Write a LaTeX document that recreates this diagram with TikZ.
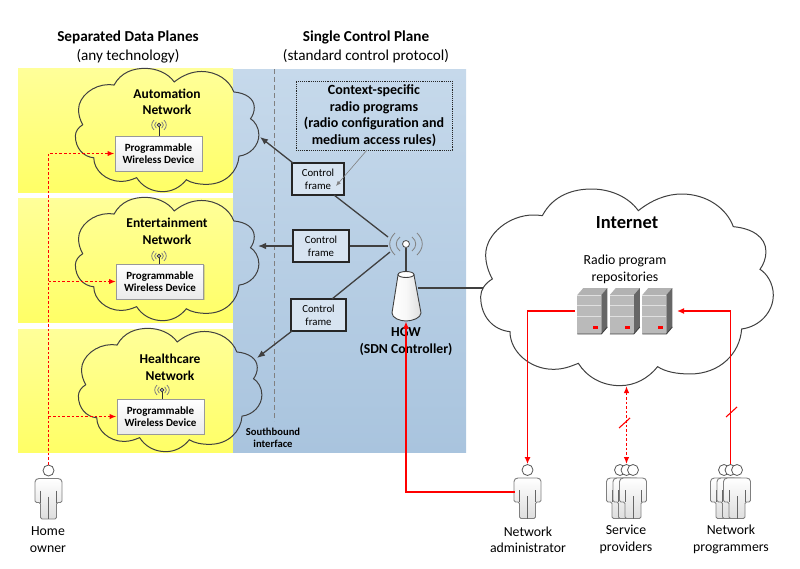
\documentclass[tikz,border=0pt]{standalone}
\usepackage{fontspec}
\setmainfont{Carlito}
\usetikzlibrary{arrows.meta,shadows,calc}
\definecolor{linegray}{HTML}{404040}
\definecolor{bodygray}{HTML}{7F7F7F}
\definecolor{yellowtop}{HTML}{FFFF99}
\definecolor{yellowbot}{HTML}{FFFF66}
\definecolor{bluetop}{HTML}{C6D9EB}
\definecolor{bluebot}{HTML}{A9C4DE}
\newcommand{\cloudpath}{(217,107) .. controls (250,45) and (310,27) .. (365,27) .. controls (420,27) and (475,50) .. (505,92)
 .. controls (545,60) and (590,42) .. (635,42) .. controls (710,42) and (770,85) .. (790,140)
 .. controls (845,145) and (888,170) .. (888,215) .. controls (888,235) and (880,255) .. (870,268)
 .. controls (890,280) and (910,310) .. (910,345) .. controls (910,395) and (870,440) .. (815,447)
 .. controls (810,520) and (750,582) .. (660,582) .. controls (620,582) and (585,575) .. (563,560)
 .. controls (535,595) and (495,617) .. (450,617) .. controls (395,617) and (350,590) .. (325,550)
 .. controls (300,560) and (280,568) .. (250,568) .. controls (180,568) and (120,515) .. (120,455)
 .. controls (70,450) and (32,410) .. (32,350) .. controls (32,330) and (45,310) .. (67,297)
 .. controls (55,275) and (47,250) .. (47,225) .. controls (47,160) and (120,105) .. (190,105)
 .. controls (200,105) and (210,106) .. (217,107) -- cycle}
\tikzset{
 panel/.style={top color=yellowtop, bottom color=yellowbot, draw=none},
 cloudline/.style={draw=linegray, line width=1pt},
 ctrlline/.style={draw=linegray, line width=1.3pt},
 ctrlarrow/.style={ctrlline, -{Latex[length=8pt,width=6.5pt]}},
 redline/.style={draw=red, line width=1.9pt, -{Latex[length=7pt,width=6pt]}},
 reddash/.style={draw=red, line width=1.9pt, dash pattern=on 2.6pt off 2pt, -{Latex[length=7pt,width=5.5pt]}},
 redtick/.style={draw=red, line width=1.1pt},
 title/.style={font=\fontsize{15.2}{19}\selectfont, align=center, inner sep=0pt},
 netlabel/.style={font=\fontsize{13.5}{16.5}\selectfont\bfseries, align=center, inner sep=0pt},
 caption/.style={font=\fontsize{13.8}{16.5}\selectfont, align=center, inner sep=0pt},
 devbox/.style={draw=gray!80, line width=1pt, top color=white, bottom color=black!8, minimum width=87pt, minimum height=35pt, inner sep=0pt, align=center, font=\fontsize{11}{12.5}\selectfont\bfseries, drop shadow={shadow xshift=1pt,shadow yshift=-1pt,opacity=.3}},
 framebox/.style={draw=black!85, line width=1.1pt, fill=bluetop!70, minimum height=32pt, inner sep=0pt, align=center, font=\fontsize{10.8}{12.7}\selectfont},
 radio/.pic={
  \draw[gray, line width=0.8pt] (-6,-7) .. controls (-11,-3) and (-11,3) .. (-6,7);
  \draw[gray, line width=0.8pt] (-11,-11) .. controls (-18,-4) and (-18,4) .. (-11,11);
  \draw[gray, line width=0.8pt] (6,-7) .. controls (11,-3) and (11,3) .. (6,7);
  \draw[gray, line width=0.8pt] (11,-11) .. controls (18,-4) and (18,4) .. (11,11);
 },
 person/.pic={
  \node[circle, draw=black!65, fill=white, line width=0.8pt, minimum size=11pt, inner sep=0pt] (-head) at (0,0) {};
  \draw[draw=bodygray, line width=0.9pt, top color=white, bottom color=black!13, rounded corners=1.5pt]
   (-13.5,10) -- (-11,8) -- (11,8) -- (13.5,10) -- (13.5,32) -- (8,32) -- (8,48.5) -- (-8,48.5) -- (-8,32) -- (-13.5,32) -- cycle;
  \draw[black!60, line width=0.9pt] (0,26) -- (0,48.5) (-8,20) -- (-8,32) (8,20) -- (8,32);
 },
 server/.pic={
  \fill[black!30] (0,7) -- (6,0) -- (30,0) -- (24,7) -- cycle;
  \fill[black!60] (24,7) -- (30,0) -- (30,39) -- (24,46) -- cycle;
  \fill[black!27] (0,7) rectangle (24,46);
  \draw[black!12, line width=1pt] (0,7.5) -- (24,7.5) (0,17) -- (24,17) (0,28) -- (24,28);
  \draw[black!75, line width=0.9pt] (0,46) -- (24,46) -- (30,39);
  \fill[red] (15.5,37.5) rectangle (20.5,40.5);
 },
}
\begin{document}
\begin{tikzpicture}[x=1pt,y=-1pt]
\useasboundingbox (0,0) rectangle (800,568);
% panels
\path[panel] (18,68) rectangle (233,192);
\path[panel] (18,198) rectangle (233,322);
\path[panel] (18,329) rectangle (233,452);
\path[top color=bluetop, bottom color=bluebot] (233,69) rectangle (466,452);
\draw[gray, line width=1pt, dash pattern=on 5pt off 3pt] (274,69) -- (274,421);
% titles
\node[title] (dataTitle) at (128,46.5) {\textbf{Separated Data Planes}\\(any technology)};
\node[title] (ctrlTitle) at (366,46.5) {\textbf{Single Control Plane}\\(standard control protocol)};
% clouds
\draw[cloudline, shift={(68.7,62.7)}, scale=0.209] \cloudpath;
\draw[cloudline, shift={(68.7,191.7)}, scale=0.209] \cloudpath;
\draw[cloudline, shift={(71.7,322.7)}, scale=0.209] \cloudpath;
\draw[cloudline, fill=white, shift={(470,180)}, scale=0.3333] \cloudpath;
\node[netlabel] (autoLabel) at (167,102) {Automation\\Network};
\node[netlabel] (entLabel) at (167,231.5) {Entertainment\\Network};
\node[netlabel] (healthLabel) at (170,367.5) {Healthcare\\Network};
% devices
\node[devbox] (devA) at (158.5,153.5) {Programmable\\Wireless Device};
\node[devbox] (devB) at (160,281.5) {Programmable\\Wireless Device};
\node[devbox] (devC) at (160.5,416.5) {Programmable\\Wireless Device};
\pic[scale=0.45] at (159,125) {radio};
\pic[scale=0.45] at (159,256) {radio};
\pic[scale=0.45] at (162,390) {radio};
\node[circle, draw=black!80, fill=white, line width=0.8pt, minimum size=3.5pt, inner sep=0pt] (radA) at (159,125) {};
\node[circle, draw=black!80, fill=white, line width=0.8pt, minimum size=3.5pt, inner sep=0pt] (radB) at (159,256) {};
\node[circle, draw=black!80, fill=white, line width=0.8pt, minimum size=3.5pt, inner sep=0pt] (radC) at (162,390) {};
\draw[black!80, line width=0.9pt] (radA) -- (radA |- devA.north);
\draw[black!80, line width=0.9pt] (radB) -- (radB |- devB.north);
\draw[black!80, line width=0.9pt] (radC) -- (radC |- devC.north);
% control plane
\node[draw=black!85, densely dotted, line width=0.9pt, minimum width=156pt, minimum height=69pt, inner sep=0pt, align=center, font=\fontsize{14}{16.5}\selectfont\bfseries] (ctxBox) at (374,115.5) {Context-specific\\radio programs\\(radio configuration and\\medium access rules)};
\node[framebox, minimum width=52pt] (frameA) at (318,179) {Control\\frame};
\node[framebox, minimum width=56pt] (frameB) at (321,246) {Control\\frame};
\node[framebox, minimum width=55pt] (frameC) at (318.5,315) {Control\\frame};
\pic at (406,244) {radio};
\node[circle, draw=black!70, fill=white, line width=0.8pt, minimum width=7pt, minimum height=6pt, inner sep=0pt] (hgwRad) at (406,244) {};
\coordinate (radW) at (388,246);
\coordinate (radNW) at (388,237);
\coordinate (radSW) at (390,252);
\coordinate (cloudA) at (260,137);
\coordinate (cloudB) at (258,246);
\coordinate (cloudC) at (257,358);
\coordinate (frameAtail) at (334,195);
\coordinate (frameAhead) at (293,163);
\coordinate (frameCtail) at (332,299);
\coordinate (frameChead) at (292,331);
\coordinate (ctxTail) at (367,150);
\coordinate (ctxHead) at (336,186);
\path [ctrlline] (frameAtail) edge (radNW);
\draw [ctrlarrow] (frameAhead) -- (cloudA);
\path [ctrlline] (frameB.east) edge (radW);
\draw [ctrlarrow] (frameB.west) -- (cloudB);
\path [ctrlline] (frameCtail) edge (radSW);
\draw [ctrlarrow] (frameChead) -- (cloudC);
\draw [gray, line width=0.6pt, -{Latex[length=5pt,width=4pt]}] (ctxTail) -- (ctxHead);
% HGW
\coordinate (hgwTop) at (406,272);
\coordinate (hgwBase) at (406,321.5);
\coordinate (hgwEast) at (418,288);
\coordinate (inetWest) at (483,288);
\path [ctrlline] (hgwRad) edge (hgwTop);
\path [ctrlline] (hgwEast) edge (inetWest);
\draw[draw=linegray, line width=0.9pt, left color=white, right color=black!13, middle color=black!3]
 (398,275) -- (392,313) .. controls (392,318) and (400,321) .. (406,321) .. controls (412,321) and (421,318) .. (421,313) -- (414,275) -- cycle;
\draw[draw=linegray, line width=0.9pt, fill=white] (406,274.5) ellipse [x radius=8, y radius=3];
\node[netlabel, font=\fontsize{13.7}{17}\selectfont\bfseries] (hgwLabel) at (406,341.5) {HGW\\(SDN Controller)};
\node[font=\fontsize{10.6}{12}\selectfont\bfseries, align=center, inner sep=0pt] (sbLabel) at (273,438) {Southbound\\interface};
% internet
\node[font=\fontsize{18.5}{20}\selectfont\bfseries, inner sep=0pt] (inetLabel) at (627,223) {Internet};
\node[caption] (repoLabel) at (625,269.5) {Radio program\\repositories};
\pic at (577.3,288) {server};
\pic at (609.8,288) {server};
\pic at (642.3,288) {server};
\coordinate (repoWest) at (575,311);
\coordinate (repoEast) at (677,311);
\coordinate (inetSouth) at (626.5,386);
% people
\pic (home) at (48.5,470.5) {person};
\pic (admin) at (527.5,470) {person};
\pic (svcA) at (620,470) {person};
\pic (svcB) at (626.5,470) {person};
\pic (svcC) at (633,470) {person};
\pic (progA) at (724,470) {person};
\pic (progB) at (730.5,470) {person};
\pic (progC) at (737,470) {person};
\node[caption] (homeLabel) at (48,539.5) {Home\\owner};
\node[caption] (adminLabel) at (528,539.5) {Network\\administrator};
\node[caption] (svcLabel) at (626,539.5) {Service\\providers};
\node[caption] (progLabel) at (731,539.5) {Network\\programmers};
% red links
\coordinate (adminArm) at (515,492);
\coordinate (homeB) at (home-head.north |- devB.west);
\coordinate (homeC) at (home-head.north |- devC.west);
\draw[reddash] (home-head.north) |- (devA.west);
\draw[reddash] (homeB) -- (devB.west);
\draw[reddash] (homeC) -- (devC.west);
\draw[redline] (repoWest) -| (admin-head.north);
\draw[redline] (adminArm) -| (hgwBase);
\draw[redline] (progB-head.north) |- (repoEast);
\draw[reddash, {Latex[length=7pt,width=5.5pt]}-{Latex[length=7pt,width=5.5pt]}] (inetSouth) -- (svcB-head.north);
\coordinate (tickAa) at (630,418);
\coordinate (tickAb) at (619,428);
\coordinate (tickBa) at (737,407);
\coordinate (tickBb) at (726,417);
\draw[redtick] (tickAa) -- (tickAb);
\draw[redtick] (tickBa) -- (tickBb);
\end{tikzpicture}
\end{document}
